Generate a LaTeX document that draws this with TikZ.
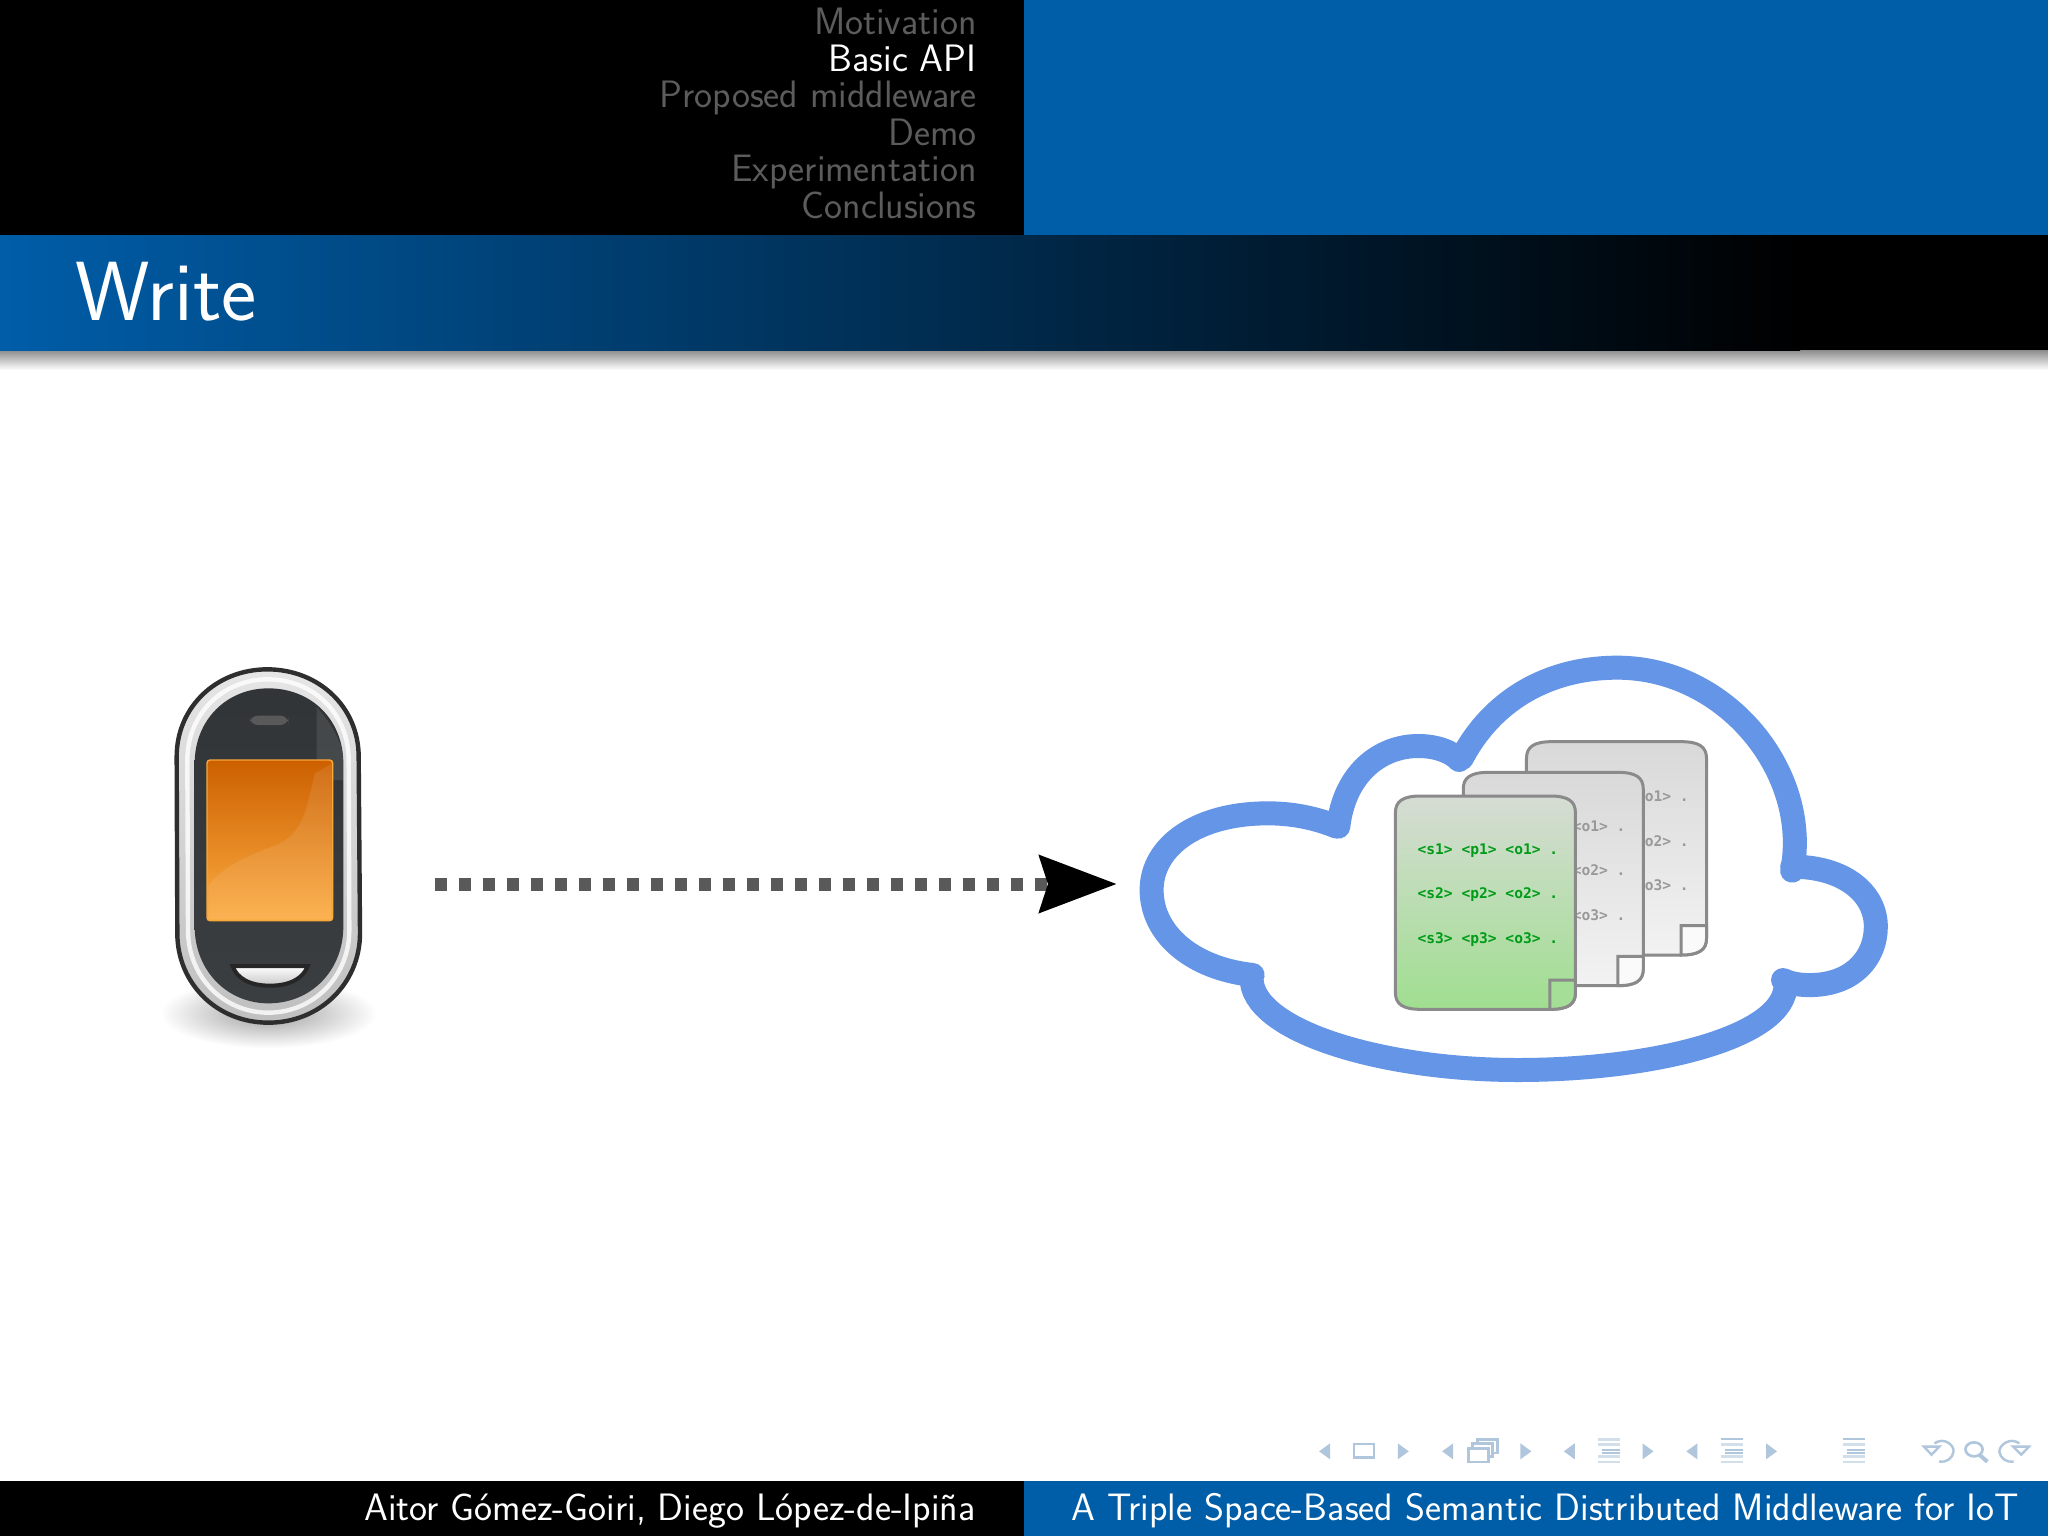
\documentclass[tikz,border=0pt]{standalone}
\usepackage{fontspec}
\newfontfamily\docfont{DejaVu Sans Mono}
\usetikzlibrary{arrows.meta}
\definecolor{bblue}{RGB}{0,93,168}
\definecolor{navdim}{RGB}{92,92,92}
\definecolor{cloudblue}{RGB}{100,149,230}
\definecolor{iconc}{RGB}{176,198,220}
\definecolor{iconl}{RGB}{210,222,234}
\definecolor{docline}{RGB}{138,138,138}
\definecolor{bodydark}{RGB}{58,62,65}
\tikzset{
 navtext/.style={anchor=base east,inner sep=0,text=navdim,font=\sffamily\fontsize{19.1}{19.1}\selectfont},
 foottext/.style={inner sep=0,text=white,font=\sffamily\fontsize{19.1}{19.1}\selectfont},
 doctext/.style={anchor=east,inner sep=0,font=\docfont\bfseries\fontsize{7.3}{7.3}\selectfont},
 greydoc/.style={draw=docline,line width=1.5pt,top color=black!15,bottom color=black!5},
 greenfold/.style={draw=docline,line width=1.5pt},
 icontri/.style={fill=iconc,draw=none},
 iconbar/.style={line width=1.3pt,draw=iconc},
 iconpale/.style={line width=1.3pt,draw=iconl},
 iconline/.style={line width=1.1pt,draw=iconc},
}
\newcommand{\docshape}[2]{% x0 y0 : top-left; size 353 x 640
 (#1+0,#2+50) .. controls (#1+0,#2+15) and (#1+15,#2+0) .. (#1+50,#2+0) -- (#1+303,#2+0) .. controls (#1+338,#2+0) and (#1+353,#2+15) .. (#1+353,#2+50) -- (#1+353,#2+590) .. controls (#1+353,#2+625) and (#1+338,#2+640) .. (#1+303,#2+640) -- (#1+50,#2+640) .. controls (#1+15,#2+640) and (#1+0,#2+625) .. (#1+0,#2+590) -- cycle}
\newcommand{\docfold}[2]{(#1+303,#2+640) -- (#1+303,#2+552) -- (#1+353,#2+552) -- (#1+353,#2+590) .. controls (#1+353,#2+625) and (#1+338,#2+640) .. (#1+303,#2+640) -- cycle}
\newcommand{\lefttri}[1]{\fill[icontri] (#1,94) -- (#1+23,70) -- (#1+23,118) -- cycle;}
\newcommand{\righttri}[1]{\fill[icontri] (#1+23,94) -- (#1,70) -- (#1,118) -- cycle;}
\newcommand{\subicon}[2]{%
 \draw[#2] (#1,58) -- (#1+46,58);
 \draw[iconpale] (#1,73) -- (#1+46,73);
 \draw[iconline] (#1+8,90) -- (#1+46,90);
 \draw[iconline] (#1+8,100) -- (#1+46,100);
 \draw[iconpale] (#1,110) -- (#1+46,110);
 \draw[iconpale] (#1,126) -- (#1+46,126);}
\begin{document}
\begin{tikzpicture}[x=0.5pt,y=-0.5pt]
\useasboundingbox (0,0) rectangle (2048,1536);
\fill[white] (0,0) rectangle (2048,1536);
% header
\fill[black] (0,0) rectangle (1024,235);
\fill[bblue] (1024,0) rectangle (2048,235);
\node[navtext] (n1) at (977,35) {Motivation};
\node[navtext,text=white] (n2) at (977,72) {Basic API};
\node[navtext] (n3) at (977,108) {Proposed middleware};
\node[navtext] (n4) at (977,145) {Demo};
\node[navtext] (n5) at (977,181) {Experimentation};
\node[navtext] (n6) at (977,218) {Conclusions};
% title
\fill[top color=black!45,bottom color=white,draw=none] (0,350) rectangle (2048,370);
\fill[black] (0,235) rectangle (2048,350);
\shade[left color=bblue,right color=black] (0,235) rectangle (1800,350);
\node[anchor=base west,inner sep=0,text=white,font=\sffamily\fontsize{42}{42}\selectfont] (title) at (75,320) {Write};
% footer
\fill[black] (0,1481) rectangle (1024,1536);
\fill[bblue] (1024,1481) rectangle (2048,1536);
\node[foottext,anchor=base east] (fl) at (976,1520) {Aitor Gómez-Goiri, Diego López-de-Ipiña};
\node[foottext,anchor=base east] (fr) at (2019,1520) {A Triple Space-Based Semantic Distributed Middleware for IoT};
% phone
\begin{scope}[shift={(130,640)},scale=1/3]
 \shade[inner color=black!38,outer color=white] (415,1120) ellipse [x radius=325,y radius=105];
 \path[draw=black!82,line width=2.2pt,top color=black!10,bottom color=black!25]
  (140,350) .. controls (140,200) and (260,88) .. (412,88) .. controls (565,88) and (686,200) .. (686,350) -- (690,880) .. controls (690,1030) and (570,1148) .. (415,1148) .. controls (260,1148) and (142,1030) .. (142,880) -- cycle;
 \draw[white,line width=2.2pt,opacity=.8]
  (172,360) .. controls (172,220) and (280,118) .. (413,118) .. controls (550,118) and (656,220) .. (656,360) -- (658,870) .. controls (658,1010) and (550,1118) .. (415,1118) .. controls (280,1118) and (174,1010) .. (174,870) -- cycle;
 \path[top color=bodydark!85!black,bottom color=bodydark]
  (194,370) .. controls (194,240) and (290,145) .. (415,145) .. controls (545,145) and (640,240) .. (640,370) -- (640,860) .. controls (640,990) and (545,1090) .. (415,1090) .. controls (290,1090) and (194,990) .. (194,860) -- cycle;
 \fill[white,opacity=.09] (560,200) .. controls (610,260) and (640,310) .. (640,370) -- (640,420) -- (560,420) -- cycle;
 \fill[black!65,rounded corners=4pt] (360,227) rectangle (475,255);
 \path[draw={rgb,255:red,249;green,168;blue,58},line width=.7pt,top color={rgb,255:red,204;green,96;blue,0},bottom color={rgb,255:red,252;green,172;blue,66},rounded corners=1.5pt] (231,360) rectangle (608,842);
 \fill[white,opacity=.09] (235,735) .. controls (300,660) and (380,640) .. (450,610) .. controls (530,570) and (535,470) .. (555,400) -- (604,372) -- (604,838) -- (235,838) -- cycle;
 \path[draw=black!85,line width=2pt,top color=white,bottom color=black!22]
  (308,978) -- (533,978) .. controls (520,1015) and (480,1037) .. (420,1037) .. controls (360,1037) and (320,1015) .. (308,978) -- cycle;
\end{scope}
% arrow
\coordinate (from) at (435,884);
\coordinate (to) at (1117,884);
\draw[draw=black!65,line width=6.5pt,dash pattern=on 6pt off 6pt,
  -{Stealth[length=38.5pt,width=28pt,inset=4pt,color=black]}] (from) -- (to);
% cloud and documents
\begin{scope}[shift={(1120,640)},xscale=0.51,yscale=1/3]
 \draw[cloudblue,line width=12pt,line cap=round,line join=round]
  (425,560) .. controls (385,535) and (340,520) .. (290,520)
  .. controls (150,520) and (62,620) .. (62,750)
  .. controls (62,880) and (140,985) .. (260,1005)
  (258,1012) .. controls (255,1170) and (510,1290) .. (780,1290)
  .. controls (1050,1290) and (1305,1190) .. (1305,1035)
  (1300,1020) .. controls (1320,1035) and (1345,1036) .. (1360,1035)
  .. controls (1440,1030) and (1482,950) .. (1482,860)
  .. controls (1482,760) and (1420,680) .. (1318,680)
  (1318,692) .. controls (1355,400) and (1190,83) .. (975,83)
  .. controls (840,83) and (730,180) .. (670,355)
  (665,360) .. controls (650,335) and (620,318) .. (585,318)
  .. controls (510,318) and (440,400) .. (428,560);
 % back document
 \path[greydoc] \docshape{797}{305};
 \path[draw=docline,line width=1.5pt,fill=black!2] \docfold{797}{305};
 \node[doctext,text=black!40] (b1) at (1116,470) {<o1> .};
 \node[doctext,text=black!40] (b2) at (1116,603) {<o2> .};
 \node[doctext,text=black!40] (b3) at (1116,735) {<o3> .};
 % middle document
 \path[greydoc] \docshape{673}{397};
 \path[draw=docline,line width=1.5pt,fill=black!2] \docfold{673}{397};
 \node[doctext,text=black!40] (m1) at (992,560) {<o1> .};
 \node[doctext,text=black!40] (m2) at (992,692) {<o2> .};
 \node[doctext,text=black!40] (m3) at (992,825) {<o3> .};
 % front document
 \path[draw=docline,line width=1.5pt,top color={rgb,255:red,214;green,220;blue,212},bottom color={rgb,255:red,160;green,222;blue,144}] \docshape{540}{468};
 \path[greenfold,fill={rgb,255:red,165;green,222;blue,150}] \docfold{540}{468};
 \node[doctext,text={rgb,255:red,0;green,155;blue,25}] (f1) at (860,632) {<s1> <p1> <o1> .};
 \node[doctext,text={rgb,255:red,0;green,155;blue,25}] (f2) at (860,765) {<s2> <p2> <o2> .};
 \node[doctext,text={rgb,255:red,0;green,155;blue,25}] (f3) at (860,898) {<s3> <p3> <o3> .};
\end{scope}
% navigation symbols
\begin{scope}[shift={(1300,1420)},xscale=0.477,yscale=1/3]
 \lefttri{40}
 \draw[iconbar] (113,72) rectangle (155,113);
 \righttri{205}
 \lefttri{298}
 \draw[iconbar] (372,58) rectangle (414,99);
 \draw[iconbar,fill=white] (362,70) rectangle (404,110);
 \draw[iconbar,fill=white] (353,85) rectangle (395,126);
 \righttri{462}
 \lefttri{553}
 \subicon{625}{iconpale}
 \righttri{718}
 \lefttri{810}
 \subicon{882}{iconline}
 \righttri{977}
 \subicon{1138}{iconline}
 \draw[iconline,line width=1.2pt] (1330,70) .. controls (1350,50) and (1372,75) .. (1370,95) .. controls (1368,115) and (1355,128) .. (1340,125);
 \draw[iconline,line width=1.2pt] (1308,80) -- (1340,80) -- (1324,104) -- cycle;
 \draw[iconline,line width=1.3pt] (1413,88) ellipse [x radius=18,y radius=21];
 \draw[iconline,line width=2pt] (1424,104) -- (1441,125);
 \draw[iconline,line width=1.2pt] (1508,70) .. controls (1488,50) and (1466,75) .. (1466,95) .. controls (1468,115) and (1481,128) .. (1496,125);
 \draw[iconline,line width=1.2pt] (1495,80) -- (1528,80) -- (1512,104) -- cycle;
\end{scope}
\end{tikzpicture}
\end{document}
